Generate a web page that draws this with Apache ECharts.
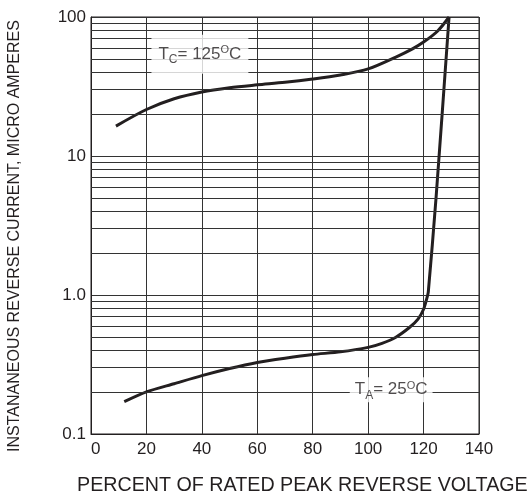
<!DOCTYPE html>
<html>
<head>
<meta charset="utf-8">
<script src="https://cdn.jsdelivr.net/npm/echarts@6/dist/echarts.min.js"></script>
<style>
html,body{margin:0;padding:0;background:#fff;}
#chart{width:532px;height:498px;}
</style>
</head>
<body>
<div id="chart"></div>
<script>
// ---- data ----
const xTicks = [0, 20, 40, 60, 80, 100, 120, 140];
const yTickLabels = { '0.1': '0.1', '1': '1.0', '10': '10', '100': '100' };

const hotX = [9, 20, 30, 40, 50, 60, 70, 80, 90, 100, 110, 116, 120, 125, 129.2];
const hotY = [16.4, 21.6, 25.8, 28.9, 31.0, 32.5, 33.9, 35.8, 38.3, 42.3, 51.5, 59, 66, 79, 100];

const coldX = [12, 20, 30, 40, 50, 60, 70, 80, 90, 100, 105, 110, 115, 118, 120, 121.1, 121.7, 124.5, 129.2];
const coldY = [0.171, 0.201, 0.23, 0.263, 0.296, 0.327, 0.351, 0.373, 0.39, 0.42, 0.449, 0.497, 0.586, 0.67, 0.79, 0.935, 1.05, 5, 100];

const hotLabelAt = [39.3, 54];
const coldLabelAt = [108.3, 0.208];

const xTitle = 'PERCENT OF RATED PEAK REVERSE VOLTAGE';
const yTitle = 'INSTANANEOUS REVERSE CURRENT, MICRO AMPERES';

// ---- build ----
const FONT = '"Liberation Sans", Arial, Helvetica, sans-serif';
const INK = '#231f20';
const GRID = '#333333';

const minorY = [];
[0.1, 1, 10].forEach(d => { for (let k = 2; k <= 9; k++) minorY.push(+(k * d).toPrecision(3)); });

const pair = (xs, ys) => xs.map((x, i) => [x, ys[i]]);

const richStyle = {
  t: { fontSize: 17, fontFamily: FONT, color: INK },
  s: { fontSize: 12, fontFamily: FONT, color: INK, padding: [11, 0, 0, 0] },
  o: { fontSize: 11, fontFamily: FONT, color: INK, padding: [0, 0, 8, 0] }
};

const chart = echarts.init(document.getElementById('chart'));
chart.setOption({
  animation: false,
  backgroundColor: '#fff',
  grid: { left: 91, right: 53, top: 17, bottom: 64, show: true, borderColor: INK, borderWidth: 1 },
  xAxis: {
    type: 'value', min: 0, max: 140, interval: 20,
    axisLine: { show: true, lineStyle: { color: INK, width: 1 } },
    axisTick: { show: false },
    splitLine: { show: true, lineStyle: { color: GRID, width: 1 } },
    axisLabel: { fontSize: 17, fontFamily: FONT, color: INK, margin: 7, alignMinLabel: 'left',
      formatter: v => xTicks.includes(v) ? String(v) : '' }
  },
  yAxis: {
    type: 'log', logBase: 10, min: 0.1, max: 100,
    axisLine: { show: true, lineStyle: { color: INK, width: 1 } },
    axisTick: { show: false },
    splitLine: { show: true, lineStyle: { color: GRID, width: 1 } },
    axisLabel: { fontSize: 17, fontFamily: FONT, color: INK, margin: 5,
      formatter: v => yTickLabels[String(+v.toPrecision(3))] || '' }
  },
  graphic: [
    { type: 'text', left: 77, top: 476, z: 10,
      style: { text: xTitle, font: '19.7px ' + FONT, fill: INK } },
    { type: 'text', x: 15, y: 236, rotation: Math.PI / 2, z: 10,
      style: { text: yTitle, font: '16px ' + FONT, fill: INK, align: 'center', verticalAlign: 'middle' } }
  ],
  series: [
    {
      type: 'line', z: 1, data: [[0, 0.1]], symbol: 'none', lineStyle: { opacity: 0 }, silent: true,
      markLine: {
        silent: true, symbol: ['none', 'none'], label: { show: false },
        lineStyle: { color: GRID, width: 1, type: 'solid' },
        data: minorY.map(v => ({ yAxis: v }))
      }
    },
    {
      name: 'Tc125', type: 'line', z: 3, data: pair(hotX, hotY), smooth: 0.3,
      symbol: 'none', lineStyle: { color: INK, width: 3 }
    },
    {
      name: 'Ta25', type: 'line', z: 3, data: pair(coldX, coldY), smooth: 0.25,
      symbol: 'none', lineStyle: { color: INK, width: 3 }
    },
    {
      type: 'scatter', z: 5, symbolSize: 0, silent: true,
      data: [hotLabelAt],
      label: { show: true, position: 'inside', backgroundColor: '#fff', padding: [8, 7],
        formatter: '{t|T}{s|C}{t|= 125}{o|O}{t|C}', rich: richStyle }
    },
    {
      type: 'scatter', z: 5, symbolSize: 0, silent: true,
      data: [coldLabelAt],
      label: { show: true, position: 'inside', backgroundColor: '#fff', padding: [1, 5],
        formatter: '{t|T}{s|A}{t|= 25}{o|O}{t|C}', rich: richStyle }
    }
  ]
});
</script>
</body>
</html>
